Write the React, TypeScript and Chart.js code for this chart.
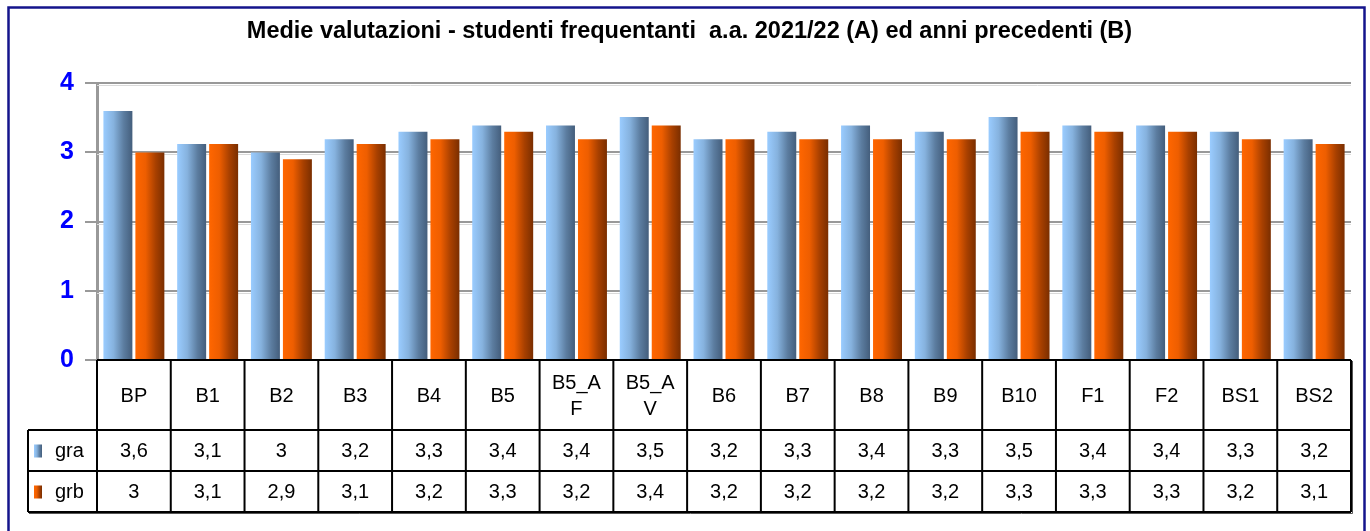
import React, { useEffect, useRef } from 'react';
import { Chart, registerables } from 'chart.js';

Chart.register(...registerables);

const TITLE = 'Medie valutazioni - studenti frequentanti  a.a. 2021/22 (A) ed anni precedenti (B)';
const categories = ['BP', 'B1', 'B2', 'B3', 'B4', 'B5', 'B5_AF', 'B5_AV', 'B6', 'B7', 'B8', 'B9', 'B10', 'F1', 'F2', 'BS1', 'BS2'];
const graValues = [3.6, 3.12, 3.0, 3.19, 3.3, 3.39, 3.39, 3.51, 3.19, 3.3, 3.39, 3.3, 3.51, 3.39, 3.39, 3.3, 3.19];
const grbValues = [3.0, 3.12, 2.9, 3.12, 3.19, 3.3, 3.19, 3.39, 3.19, 3.19, 3.19, 3.19, 3.3, 3.3, 3.3, 3.19, 3.12];
const seriesNames = ['gra', 'grb'];
const yTicks = [0, 1, 2, 3, 4];

const FONT = '"Liberation Sans", Arial, sans-serif';
const GRA_STOPS: [number, string][] = [[0, '#9ACCFF'], [0.35, '#86B2DE'], [0.7, '#5C7DA0'], [1, '#445E7C']];
const GRB_STOPS: [number, string][] = [[0, '#FF6600'], [0.35, '#EE5E00'], [0.7, '#A84000'], [1, '#7A2E00']];
const STOPS = [GRA_STOPS, GRB_STOPS];

function fmt(v: number): string {
  return String(Number(v.toFixed(1))).replace('.', ',');
}

function wrapText(ctx: CanvasRenderingContext2D, text: string, maxW: number): string[] {
  if (ctx.measureText(text).width <= maxW) return [text];
  const lines: string[] = [];
  let cur = '';
  for (const ch of text) {
    if (cur && ctx.measureText(cur + ch).width > maxW) {
      lines.push(cur);
      cur = ch;
    } else cur += ch;
  }
  if (cur) lines.push(cur);
  return lines;
}

function makeGrad(ctx: CanvasRenderingContext2D, x0: number, x1: number, stops: [number, string][]) {
  const g = ctx.createLinearGradient(x0, 0, x1, 0);
  stops.forEach(([o, c]) => g.addColorStop(o, c));
  return g;
}

const framePlugin = {
  id: 'frame',
  beforeDraw(chart: any) {
    const ctx = chart.ctx;
    ctx.save();
    ctx.fillStyle = '#ffffff';
    ctx.fillRect(0, 0, chart.width, chart.height);
    ctx.strokeStyle = '#14148C';
    ctx.lineWidth = 2.5;
    ctx.strokeRect(8.5, 7.5, 1356, 600);
    ctx.restore();
  },
};

const gradientPlugin = {
  id: 'barGradient',
  beforeDatasetsDraw(chart: any) {
    const ctx = chart.ctx;
    const { chartArea, scales } = chart;
    ctx.save();
    ctx.strokeStyle = '#DADADA';
    ctx.lineWidth = 1;
    yTicks.forEach((t) => {
      if (t === 0) return;
      const y = Math.round(scales.y.getPixelForValue(t)) + 2.5;
      ctx.beginPath();
      ctx.moveTo(chartArea.left, y);
      ctx.lineTo(chartArea.right, y);
      ctx.stroke();
    });
    ctx.restore();
    chart.data.datasets.forEach((_ds: any, di: number) => {
      const meta = chart.getDatasetMeta(di);
      meta.data.forEach((bar: any) => {
        const { x, width } = bar.getProps(['x', 'width'], true);
        bar.options.backgroundColor = makeGrad(ctx, x - width / 2, x + width / 2, STOPS[di]);
      });
    });
  },
};

const tablePlugin = {
  id: 'dataTable',
  afterDraw(chart: any) {
    const ctx: CanvasRenderingContext2D = chart.ctx;
    const { chartArea, scales } = chart;
    const n = categories.length;
    const colW = (chartArea.right - chartArea.left) / n;
    const top = chartArea.bottom;
    const catH = 70;
    const rowH = 41;
    const legendLeft = 28;
    const r1 = top + catH;
    const r2 = r1 + rowH;
    const r3 = r2 + rowH;
    const left = chartArea.left;
    const right = chartArea.right;

    ctx.save();
    ctx.fillStyle = '#ffffff';
    ctx.fillRect(left, top, right - left, catH);
    ctx.fillRect(legendLeft, r1, right - legendLeft, r3 - r1);
    ctx.strokeStyle = '#000000';
    ctx.lineWidth = 2;
    ctx.beginPath();
    ctx.moveTo(left, top); ctx.lineTo(right, top);
    ctx.moveTo(legendLeft, r1); ctx.lineTo(right, r1);
    ctx.moveTo(legendLeft, r2); ctx.lineTo(right, r2);
    ctx.moveTo(legendLeft, r3); ctx.lineTo(right, r3);
    ctx.moveTo(legendLeft, r1); ctx.lineTo(legendLeft, r3);
    for (let i = 0; i <= n; i++) {
      const xb = left + i * colW;
      ctx.moveTo(xb, top); ctx.lineTo(xb, r3);
    }
    ctx.stroke();
    ctx.strokeStyle = '#555';
    ctx.lineWidth = 1;
    ctx.beginPath();
    ctx.moveTo(right + 1.5, top + 1); ctx.lineTo(right + 1.5, r3 + 1.5); ctx.lineTo(legendLeft + 1, r3 + 1.5);
    ctx.stroke();

    ctx.fillStyle = '#000000';
    ctx.font = `20px ${FONT}`;
    ctx.textAlign = 'center';
    ctx.textBaseline = 'middle';
    categories.forEach((c, i) => {
      const cx = scales.x.getPixelForValue(i);
      const lines = wrapText(ctx, c, colW - 16);
      const lh = 26;
      const y0 = top + catH / 2 - ((lines.length - 1) * lh) / 2 + 1;
      lines.forEach((ln, k) => ctx.fillText(ln, cx, y0 + k * lh));
      ctx.fillText(fmt(graValues[i]), cx, r1 + rowH / 2 + 1);
      ctx.fillText(fmt(grbValues[i]), cx, r2 + rowH / 2 + 1);
    });

    [r1, r2].forEach((ry, k) => {
      const cy = ry + rowH / 2;
      ctx.fillStyle = makeGrad(ctx, 34, 42, STOPS[k]);
      ctx.fillRect(34, cy - 6, 8, 13);
      ctx.fillStyle = '#000000';
      ctx.textAlign = 'left';
      ctx.fillText(seriesNames[k], 55, cy + 1);
    });
    ctx.restore();
  },
};

export default function App() {
  const ref = useRef<HTMLCanvasElement | null>(null);
  useEffect(() => {
    if (!ref.current) return;
    const chart = new Chart(ref.current, {
      type: 'bar',
      data: {
        labels: categories,
        datasets: [
          { label: seriesNames[0], data: graValues, backgroundColor: () => '#99CCFF', borderWidth: 0 },
          { label: seriesNames[1], data: grbValues, backgroundColor: () => '#FF6600', borderWidth: 0 },
        ],
      },
      options: {
        responsive: false,
        animation: false,
        devicePixelRatio: 1,
        categoryPercentage: 0.867,
        barPercentage: 0.906,
        layout: { padding: { left: 28, right: 19, top: 0, bottom: 171 } },
        plugins: {
          legend: { display: false },
          tooltip: { enabled: false },
          title: {
            display: true,
            text: TITLE,
            color: '#000000',
            font: { family: FONT, size: 23.5, weight: 'bold' },
            padding: { top: 17, bottom: 38 },
          },
        },
        scales: {
          x: { display: false },
          y: {
            min: 0,
            max: 4,
            afterFit: (s: any) => { s.width = 69; },
            afterBuildTicks: (s: any) => { s.ticks = yTicks.map((v) => ({ value: v })); },
            ticks: {
              color: '#0000FF',
              font: { family: FONT, size: 25, weight: 'bold' },
              padding: 11,
              stepSize: 1,
            },
            grid: { color: '#999999', lineWidth: 2, tickLength: 12, tickColor: '#999999' },
            border: { display: true, color: '#999999', width: 3 },
          },
        },
      },
      plugins: [framePlugin, gradientPlugin, tablePlugin],
    });
    return () => chart.destroy();
  }, []);
  return (
    <div style={{ position: 'fixed', left: 0, top: 0, width: 1370, height: 531 }}>
      <canvas ref={ref} width={1370} height={531} />
    </div>
  );
}
